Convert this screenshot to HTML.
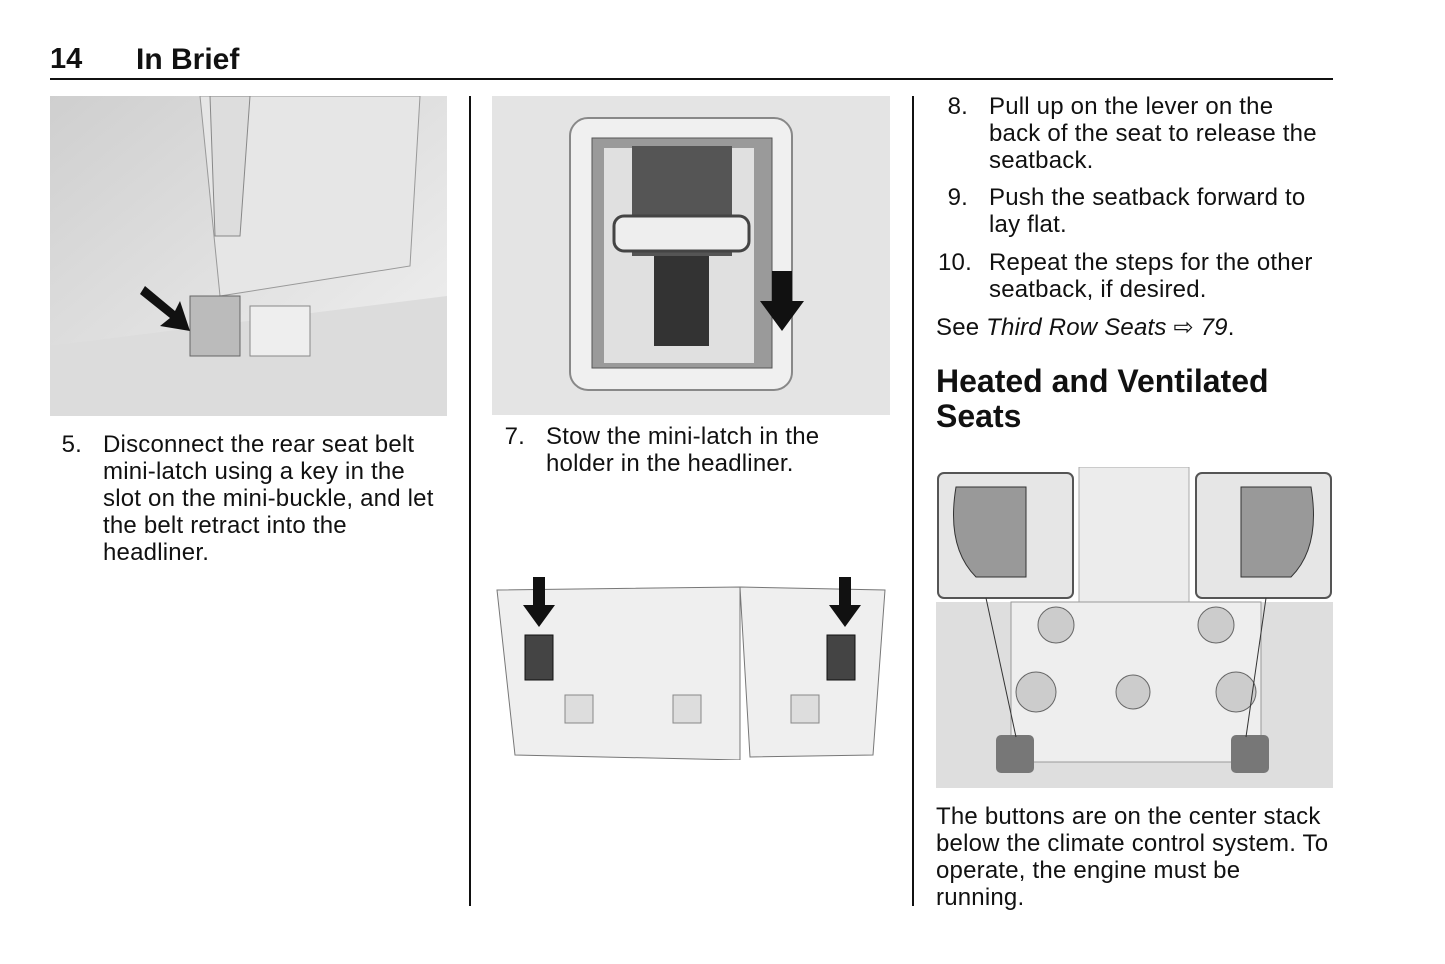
<!DOCTYPE html>
<html><head><meta charset="utf-8"><style>
body{margin:0;width:1445px;height:964px;background:#fff;position:relative;font-family:"Liberation Sans",Arial,sans-serif;color:#111;overflow:hidden}
.a{position:absolute}
.t{font-size:24px;line-height:27px;letter-spacing:0.2px;white-space:nowrap}
.n{position:absolute;text-align:right;width:30px}
.b{position:absolute}
</style></head><body>
<div class="a" style="left:50px;top:43px;font-size:29px;font-weight:bold">14</div>
<div class="a" style="left:136px;top:43px;font-size:30px;font-weight:bold">In Brief</div>
<div class="a" style="left:50px;top:78px;width:1283px;height:2px;background:#111"></div>
<div class="a" style="left:469px;top:96px;width:2px;height:810px;background:#111"></div>
<div class="a" style="left:912px;top:96px;width:2px;height:810px;background:#111"></div>

<!-- image 1 -->
<svg class="a" style="left:50px;top:96px" width="397" height="320">
<defs><linearGradient id="g1" x1="0" y1="0" x2="1" y2="1"><stop offset="0" stop-color="#cfcfcf"/><stop offset="1" stop-color="#f2f2f2"/></linearGradient></defs>
<rect width="397" height="320" fill="url(#g1)"/>
<path d="M150 0 L370 0 L360 170 L170 200 Z" fill="#e6e6e6" stroke="#999"/>
<path d="M0 250 L397 200 L397 320 L0 320 Z" fill="#dcdcdc"/>
<path d="M160 0 L200 0 L190 140 L165 140Z" fill="#ddd" stroke="#888"/>
<rect x="140" y="200" width="50" height="60" fill="#bbb" stroke="#666"/>
<rect x="200" y="210" width="60" height="50" fill="#eee" stroke="#888"/>
<path d="M95 190 L125 215 L130 205 L140 235 L110 230 L120 222 L90 198Z" fill="#111"/>
</svg>
<div class="n t" style="left:52px;top:431px">5.</div>
<div class="b t" style="left:103px;top:431px">Disconnect the rear seat belt<br>mini-latch using a key in the<br>slot on the mini-buckle, and let<br>the belt retract into the<br>headliner.</div>

<!-- image 2 -->
<svg class="a" style="left:492px;top:96px" width="398" height="319">
<rect width="398" height="319" fill="#e4e4e4"/>
<rect x="78" y="22" width="222" height="272" rx="18" fill="#f0f0f0" stroke="#888" stroke-width="2"/>
<rect x="100" y="42" width="180" height="230" fill="#9a9a9a" stroke="#555"/>
<rect x="112" y="52" width="150" height="215" fill="#e0e0e0"/>
<rect x="140" y="50" width="100" height="110" fill="#555"/>
<rect x="122" y="120" width="135" height="35" rx="10" fill="#eee" stroke="#444" stroke-width="3"/>
<rect x="162" y="160" width="55" height="90" fill="#333"/>
<path d="M280 175 L300 175 L300 205 L312 205 L290 235 L268 205 L280 205Z" fill="#111"/>
</svg>
<div class="n t" style="left:495px;top:423px">7.</div>
<div class="b t" style="left:546px;top:423px">Stow the mini-latch in the<br>holder in the headliner.</div>

<!-- image 3 -->
<svg class="a" style="left:495px;top:575px" width="392" height="185">
<path d="M2 15 L245 12 L245 185 L20 180 Z" fill="#efefef" stroke="#777"/>
<path d="M245 12 L390 15 L378 180 L255 182 Z" fill="#efefef" stroke="#777"/>
<rect x="30" y="60" width="28" height="45" fill="#444" stroke="#111"/>
<rect x="332" y="60" width="28" height="45" fill="#444" stroke="#111"/>
<rect x="70" y="120" width="28" height="28" fill="#ddd" stroke="#888"/>
<rect x="178" y="120" width="28" height="28" fill="#ddd" stroke="#888"/>
<rect x="296" y="120" width="28" height="28" fill="#ddd" stroke="#888"/>
<path d="M38 2 L50 2 L50 30 L60 30 L44 52 L28 30 L38 30Z" fill="#111"/>
<path d="M344 2 L356 2 L356 30 L366 30 L350 52 L334 30 L344 30Z" fill="#111"/>
</svg>

<!-- right column -->
<div class="n t" style="left:938px;top:93px">8.</div>
<div class="b t" style="left:989px;top:93px">Pull up on the lever on the<br>back of the seat to release the<br>seatback.</div>
<div class="n t" style="left:938px;top:184px">9.</div>
<div class="b t" style="left:989px;top:184px">Push the seatback forward to<br>lay flat.</div>
<div class="n t" style="left:938px;top:249px">10.</div>
<div class="b t" style="left:989px;top:249px">Repeat the steps for the other<br>seatback, if desired.</div>
<div class="b t" style="left:936px;top:314px">See <i>Third Row Seats</i> ⇨ <i>79</i>.</div>
<div class="b" style="left:936px;top:364px;font-size:32px;font-weight:bold;line-height:35px">Heated and Ventilated<br>Seats</div>

<!-- image 4 -->
<svg class="a" style="left:936px;top:467px" width="397" height="321">
<rect width="397" height="321" fill="#fff"/>
<rect y="135" width="397" height="186" fill="#dedede"/>
<rect x="143" y="0" width="110" height="135" fill="#ececec" stroke="#aaa"/>
<rect x="2" y="6" width="135" height="125" rx="6" fill="#e6e6e6" stroke="#555" stroke-width="2"/>
<rect x="260" y="6" width="135" height="125" rx="6" fill="#e6e6e6" stroke="#555" stroke-width="2"/>
<path d="M20 20 L90 20 L90 110 L40 110 Q10 80 20 20Z" fill="#999" stroke="#333"/>
<path d="M375 20 L305 20 L305 110 L355 110 Q385 80 375 20Z" fill="#999" stroke="#333"/>
<rect x="75" y="135" width="250" height="160" fill="#eee" stroke="#999"/>
<circle cx="120" cy="158" r="18" fill="#ccc" stroke="#666"/>
<circle cx="280" cy="158" r="18" fill="#ccc" stroke="#666"/>
<circle cx="100" cy="225" r="20" fill="#ccc" stroke="#666"/>
<circle cx="300" cy="225" r="20" fill="#ccc" stroke="#666"/>
<circle cx="197" cy="225" r="17" fill="#ccc" stroke="#666"/>
<rect x="60" y="268" width="38" height="38" rx="5" fill="#777"/>
<rect x="295" y="268" width="38" height="38" rx="5" fill="#777"/>
<line x1="50" y1="131" x2="80" y2="270" stroke="#333"/>
<line x1="330" y1="131" x2="310" y2="270" stroke="#333"/>
</svg>
<div class="b t" style="left:936px;top:803px">The buttons are on the center stack<br>below the climate control system. To<br>operate, the engine must be<br>running.</div>
</body></html>
